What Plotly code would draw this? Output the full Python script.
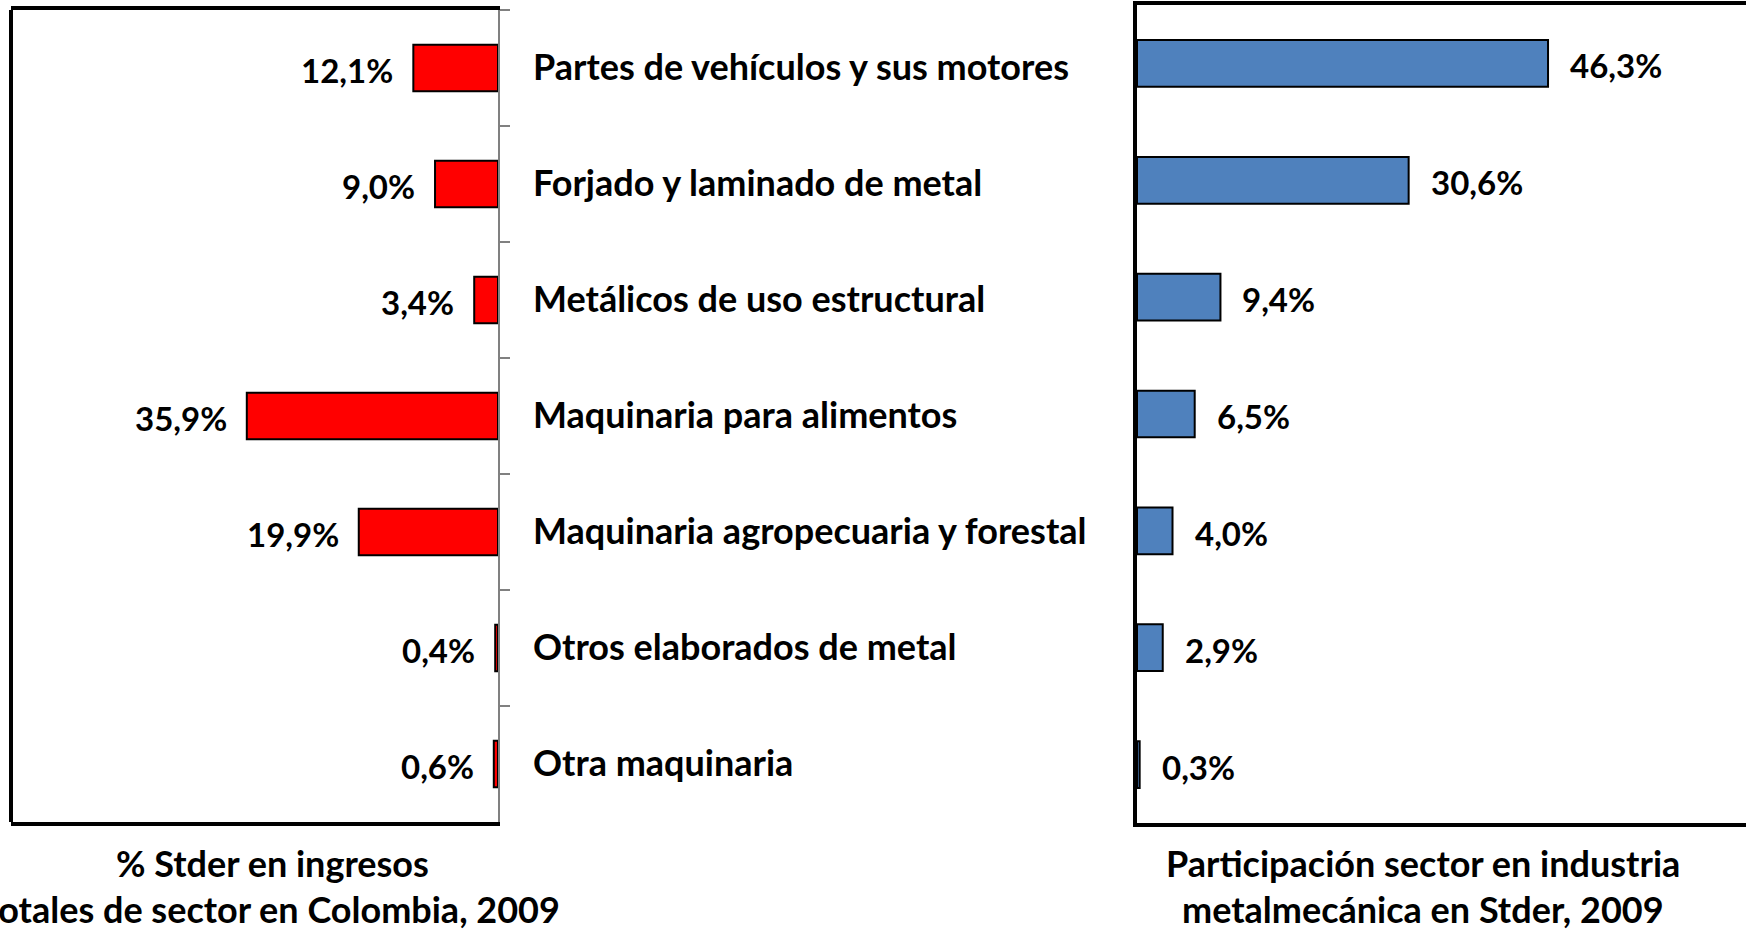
import plotly.graph_objects as go

categories = [
    "Partes de vehículos y sus motores",
    "Forjado y laminado de metal",
    "Metálicos de uso estructural",
    "Maquinaria para alimentos",
    "Maquinaria agropecuaria y forestal",
    "Otros elaborados de metal",
    "Otra maquinaria",
]
share_colombia = [12.1, 9.0, 3.4, 35.9, 19.9, 0.4, 0.6]
share_stder = [46.3, 30.6, 9.4, 6.5, 4.0, 2.9, 0.3]
title_left = ["% Stder en ingresos", "totales de sector en Colombia, 2009"]
title_right = ["Participación sector en industria", "metalmecánica en Stder, 2009"]

W, H = 1746, 932
FONT = "Lato"
FS_CAT = 36
FS_VAL = 33
FS_TITLE = 36
TITLE_BOTTOMS = [886, 932]


def fmt(v):
    return f"{v:.1f}".replace(".", ",") + "%"


def px(x):
    return x / W


def py(y):
    return 1 - y / H


def font(size):
    return dict(family=FONT, size=size, color="black", weight="bold")


fig = go.Figure()
fig.add_trace(go.Bar(
    x=share_colombia, y=categories, orientation="h", width=0.4,
    marker=dict(color="#FF0000", line=dict(color="black", width=2)),
    xaxis="x", yaxis="y", showlegend=False, hoverinfo="skip",
))
fig.add_trace(go.Bar(
    x=share_stder, y=categories, orientation="h", width=0.4,
    marker=dict(color="#4F81BD", line=dict(color="black", width=2)),
    xaxis="x2", yaxis="y2", showlegend=False, hoverinfo="skip",
))

annotations = []
for c, v in zip(categories, share_colombia):
    annotations.append(dict(x=v, y=c, xref="x", yref="y", text=fmt(v), showarrow=False,
                            xanchor="right", xshift=-18, yshift=-2, font=font(FS_VAL)))
for c, v in zip(categories, share_stder):
    annotations.append(dict(x=v, y=c, xref="x2", yref="y2", text=fmt(v), showarrow=False,
                            xanchor="left", xshift=20, yshift=-2, font=font(FS_VAL)))
for c in categories:
    annotations.append(dict(x=px(531), y=c, xref="paper", yref="y", text=c, showarrow=False,
                            xanchor="left", yshift=2, font=font(FS_CAT)))
for t, b in zip(title_left, TITLE_BOTTOMS):
    annotations.append(dict(x=px(272), y=py(b), xref="paper", yref="paper",
                            text=t, showarrow=False, xanchor="center", yanchor="bottom",
                            borderpad=0, font=font(FS_TITLE)))
for t, b in zip(title_right, TITLE_BOTTOMS):
    annotations.append(dict(x=px(1423), y=py(b), xref="paper", yref="paper",
                            text=t, showarrow=False, xanchor="center", yanchor="bottom",
                            borderpad=0, font=font(FS_TITLE)))

shapes = [
    dict(type="line", xref="x domain", yref="y domain", x0=0, x1=0, y0=0, y1=1,
         line=dict(color="black", width=4)),
]

fig.update_layout(
    width=W, height=H,
    margin=dict(l=0, r=0, t=0, b=0),
    paper_bgcolor="white", plot_bgcolor="white",
    xaxis=dict(domain=[px(11), px(498)], range=[69.6, 0], showline=True, mirror=True,
               linecolor="black", linewidth=4, showticklabels=False, ticks="",
               showgrid=False, zeroline=False, anchor="y"),
    yaxis=dict(domain=[py(822), py(10)], anchor="x", side="right", autorange="reversed",
               showline=True, linecolor="#808080", linewidth=2, ticks="outside",
               tickson="boundaries", ticklen=10, tickwidth=2, tickcolor="#808080",
               showticklabels=False, showgrid=False, zeroline=False),
    xaxis2=dict(domain=[px(1137), 1], range=[0, 68.6], showline=True, mirror=True,
                linecolor="black", linewidth=4, showticklabels=False, ticks="",
                showgrid=False, zeroline=False, anchor="y2"),
    yaxis2=dict(domain=[py(823), py(5)], anchor="x2", side="left", autorange="reversed",
                showline=True, linecolor="black", linewidth=4, ticks="",
                showticklabels=False, showgrid=False, zeroline=False),
    annotations=annotations,
    shapes=shapes,
)

fig.write_html(
    "out.html",
    config={"displayModeBar": False},
    post_script="document.body.style.margin='0';document.body.style.padding='0';"
                "document.body.style.overflow='hidden';",
)
